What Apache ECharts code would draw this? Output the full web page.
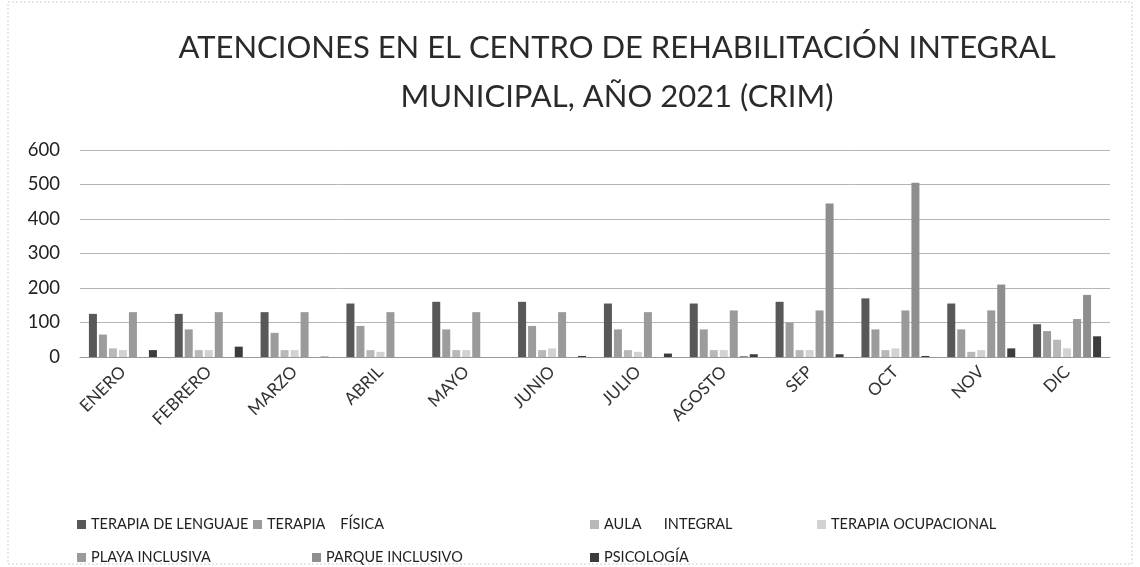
<!DOCTYPE html>
<html>
<head>
<meta charset="utf-8">
<script src="https://cdn.jsdelivr.net/npm/echarts@6/dist/echarts.min.js"></script>
<style>html,body{margin:0;padding:0;background:#fff}#c{width:1140px;height:567px}</style>
</head>
<body>
<div id="c"></div>
<script>
var months = ['ENERO','FEBRERO','MARZO','ABRIL','MAYO','JUNIO','JULIO','AGOSTO','SEP','OCT','NOV','DIC'];
var seriesNames = ['TERAPIA DE LENGUAJE','TERAPIA    FÍSICA','AULA      INTEGRAL','TERAPIA OCUPACIONAL','PLAYA INCLUSIVA','PARQUE INCLUSIVO','PSICOLOGÍA'];
var lenguaje     = [125,125,130,155,160,160,155,155,160,170,155,95];
var fisica       = [65,80,70,90,80,90,80,80,100,80,80,75];
var aula         = [25,20,20,20,20,20,20,20,20,20,15,50];
var ocupacional  = [20,20,20,15,20,25,15,20,20,25,20,25];
var playa        = [130,130,130,130,130,130,130,135,135,135,135,110];
var parque       = [0,0,0,0,0,0,0,3,445,505,210,180];
var psicologia   = [20,30,1,0,0,3,10,8,8,3,25,60];
var yTicks = [0,100,200,300,400,500,600];

var values = [lenguaje, fisica, aula, ocupacional, playa, parque, psicologia];
var colors = ['#585858','#9c9c9c','#b8b8b8','#d2d2d2','#9a9a9a','#8e8e8e','#3c3c3c'];
var legendPos = [[72,512],[248,512],[585,512],[812,512],[72,545],[307,545],[585,545]];

var chart = echarts.init(document.getElementById('c'), null, {renderer:'canvas'});
var FONT = 'Lato, "Open Sans", sans-serif';
var series = values.map(function(v,i){
  return {name: seriesNames[i], type:'bar', data:v, barWidth:8, barGap:'25%',
    itemStyle:{color:colors[i]}};
});
var legends = seriesNames.map(function(n,i){
  return {data:[n], left:legendPos[i][0], top:legendPos[i][1], itemWidth:9, itemHeight:9, itemGap:5,
    icon:'rect', textStyle:{fontFamily:FONT, fontSize:14.5, color:'#222'}, selectedMode:false};
});
chart.setOption({
  animation:false,
  backgroundColor:'#fff',
  title:{text:'ATENCIONES EN EL CENTRO DE REHABILITACIÓN INTEGRAL\nMUNICIPAL, AÑO 2021 (CRIM)', left:612, textAlign:'center', top:18,
    textStyle:{fontFamily:FONT, fontSize:31, fontWeight:'normal', color:'#2a2a2a', lineHeight:49}},
  legend: legends,
  grid:{left:80, right:30, top:150, bottom:210},
  xAxis:{type:'category', data:months,
    axisLine:{lineStyle:{color:'#999'}}, axisTick:{show:false},
    axisLabel:{rotate:45, fontFamily:FONT, fontSize:17, color:'#333', margin:12, interval:0}},
  yAxis:{type:'value', min:0, max:600, interval:100,
    axisLine:{show:false}, axisTick:{show:false},
    splitLine:{lineStyle:{color:'#b5b5b5', width:1}},
    axisLabel:{fontFamily:FONT, fontSize:18.5, color:'#222', margin:20,
      customValues: yTicks}},
  series: series,
  graphic:[{type:'rect', shape:{x:8,y:2,width:1124,height:562}, style:{fill:null, stroke:'#cfcfcf', lineWidth:1, lineDash:[2,2]}, silent:true}]
});
</script>
</body>
</html>
